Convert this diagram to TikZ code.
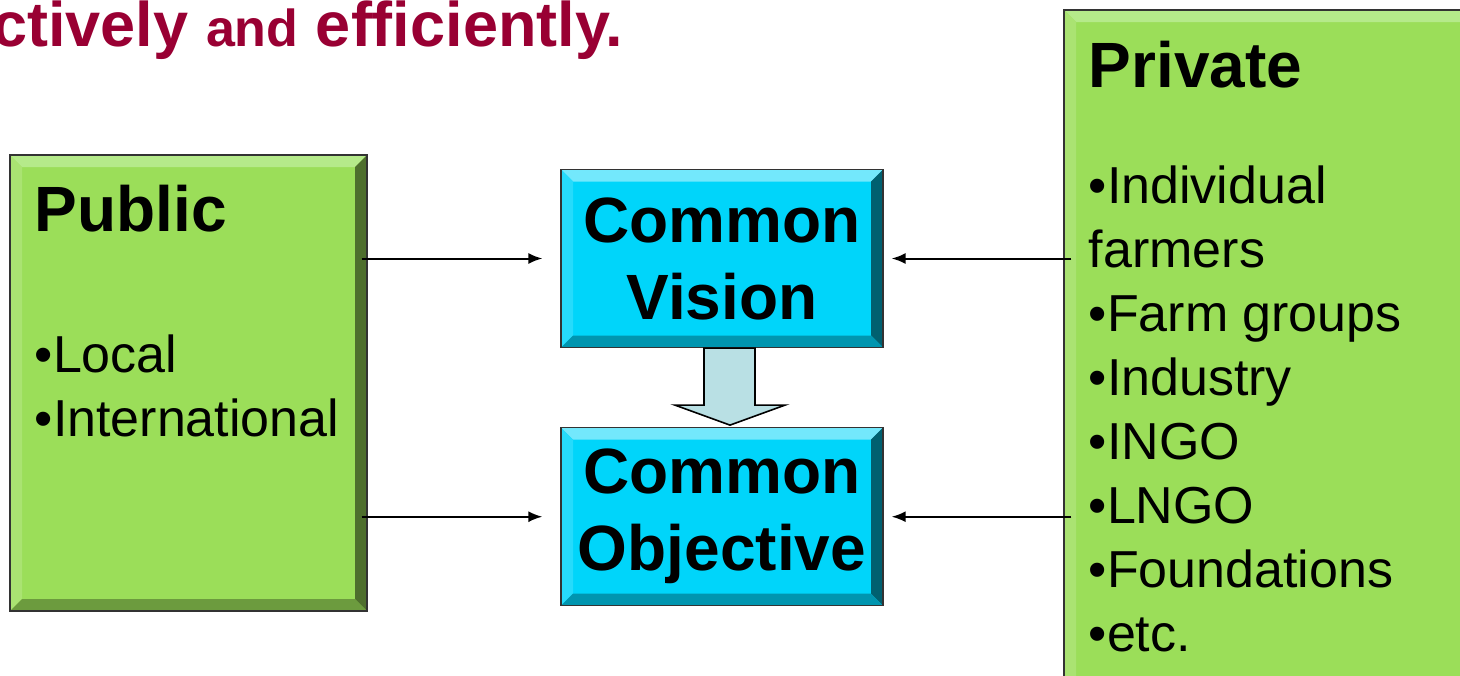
\documentclass[tikz,border=0pt]{standalone}
\usepackage{fontspec}
\setmainfont{Liberation Sans}
\usetikzlibrary{positioning,calc,arrows.meta}

\definecolor{boxgreen}{HTML}{9BDE59}
\definecolor{boxcyan}{HTML}{00D5FA}
\definecolor{titlered}{HTML}{990033}
\definecolor{arrowfill}{HTML}{B9E0E4}

\begin{document}
\begin{tikzpicture}[x=0.5pt,y=-0.5pt,
	bevel/.style n args={4}{path picture={
		\path (path picture bounding box.north west) coordinate (bnw)
		      (path picture bounding box.south east) coordinate (bse);
		\fill[#1] (bnw) -- (bnw -| bse) -- ($(bnw -| bse)+(-6pt,-6pt)$) -- ($(bnw)+(6pt,-6pt)$) -- cycle;
		\fill[#2] (bnw) -- ($(bnw)+(6pt,-6pt)$) -- ($(bnw |- bse)+(6pt,6pt)$) -- (bnw |- bse) -- cycle;
		\fill[#3] (bnw -| bse) -- (bse) -- ($(bse)+(-6pt,6pt)$) -- ($(bnw -| bse)+(-6pt,-6pt)$) -- cycle;
		\fill[#4] (bnw |- bse) -- (bse) -- ($(bse)+(-6pt,6pt)$) -- ($(bnw |- bse)+(6pt,6pt)$) -- cycle;
	}},
	sectorbox/.style={draw=black!80, line width=0.6pt, fill=boxgreen, inner sep=0pt,
		bevel={green!10!white!35!boxgreen}{white!15!boxgreen}{black!50!boxgreen}{black!30!boxgreen}
	},
	goalbox/.style={draw=black!80, line width=0.6pt, fill=boxcyan, inner sep=0pt,
		minimum width=161pt, minimum height=89pt, align=center,
		font=\bfseries\fontsize{32}{38.5}\selectfont,
		bevel={white!45!boxcyan}{white!15!boxcyan}{black!55!boxcyan}{black!30!boxcyan}
	},
	head/.style={anchor=base west, inner sep=0pt, font=\bfseries\fontsize{32}{38.5}\selectfont},
	list/.style={anchor=base west, inner sep=0pt, align=left, font=\fontsize{26}{32}\selectfont},
	link/.style={-{Latex[length=7pt,width=5.5pt]}, line width=1pt},
	bigarrow/.style={draw=black, line width=0.8pt, fill=arrowfill}
]
	\useasboundingbox (0,0) rectangle (1460,675);
	\clip (0,0) rectangle (1460,675);

	\node (heading) [anchor=base west, inner sep=0pt, text=titlered,
		font=\bfseries\fontsize{31.5}{36}\selectfont] at (-8,46)
		{ctively {\fontsize{26}{32}\selectfont and} efficiently.};

	\node (public) [sectorbox, minimum width=178.5pt, minimum height=228pt] at (188.5,383) {};
	\node (private) [sectorbox, minimum width=208pt, minimum height=340pt] at (1272,350) {};
	\node (vision) [goalbox] at (722,258.5) {Common\\Vision};
	\node (objective) [goalbox, below=39.5pt of vision] {Common\\Objective};

	% base of a list node is the baseline of its last line
	\node (publichead) [head] at ($(public.north west)+(25,77)$) {Public};
	\node (publiclist) [list] at ($(public.north west)+(25,282)$) {•Local\\•International};
	\node (privatehead) [head] at ($(private.north west)+(25,78)$) {Private};
	\node (privatelist) [list] at ($(private.north west)+(25,642)$)
		{•Individual\\farmers\\•Farm groups\\•Industry\\•INGO\\•LNGO\\•Foundations\\•etc.};

	\draw[link, shorten <=-3pt, shorten >=9pt] (public.east |- vision.west) -- (vision.west);
	\draw[link, shorten <=-3pt, shorten >=9pt] (public.east |- objective.west) -- (objective.west);
	\draw[link, shorten <=-4pt, shorten >=4pt] (private.west |- vision.east) -- (vision.east);
	\draw[link, shorten <=-4pt, shorten >=4pt] (private.west |- objective.east) -- (objective.east);

	\draw[bigarrow] ($(vision.south)+(-18,0)$) -- ($(objective.north)+(-18,-22)$)
		-- ($(objective.north)+(-47,-22)$) -- ($(objective.north)+(8,-2)$)
		-- ($(objective.north)+(63,-22)$) -- ($(objective.north)+(33,-22)$)
		-- ($(vision.south)+(33,0)$) -- cycle;
\end{tikzpicture}
\end{document}
